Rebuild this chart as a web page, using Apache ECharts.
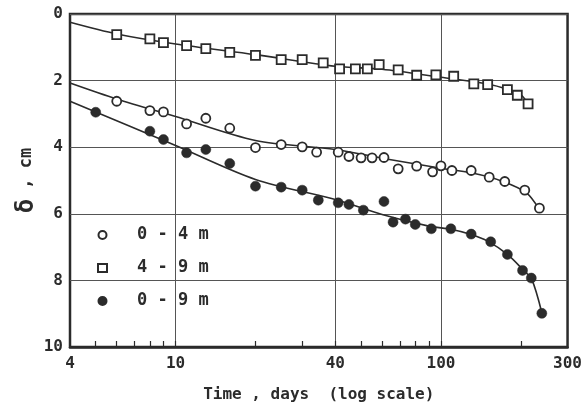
<!DOCTYPE html>
<html>
<head>
<meta charset="utf-8">
<script src="https://cdn.jsdelivr.net/npm/echarts@6/dist/echarts.min.js"></script>
<style>
  html, body { margin: 0; padding: 0; background: #fff; }
  #chart { width: 585px; height: 410px; }
</style>
</head>
<body>
<div id="chart"></div>
<script>
// x tick labels / grid lines, and all tick marks (days, log scale)
const xLabels = [4, 10, 40, 100, 300]
const xTicks = [5, 6, 7, 8, 9, 10, 20, 30, 40, 50, 60, 70, 80, 90, 100, 200]

// 0 - 4 m (open circles)
const days04 = [6, 8, 9, 11, 13, 16, 20, 25, 30, 34, 41, 45, 50, 55, 61, 69, 81, 93, 100, 110, 130, 152, 174, 207, 235]
const sett04 = [2.62, 2.9, 2.94, 3.3, 3.13, 3.43, 4.01, 3.92, 3.99, 4.15, 4.15, 4.28, 4.32, 4.32, 4.31, 4.65, 4.57, 4.74, 4.56, 4.7, 4.7, 4.9, 5.03, 5.29, 5.83]
// 4 - 9 m (open squares)
const days49 = [6, 8, 9, 11, 13, 16, 20, 25, 30, 36, 41.5, 47.6, 52.8, 58.5, 69, 81, 95.7, 111.7, 133, 150, 178, 194, 213]
const sett49 = [0.62, 0.745, 0.86, 0.95, 1.04, 1.15, 1.24, 1.37, 1.37, 1.47, 1.65, 1.65, 1.65, 1.52, 1.68, 1.84, 1.83, 1.87, 2.1, 2.12, 2.27, 2.44, 2.7]
// 0 - 9 m (filled circles)
const days09 = [5, 8, 9, 11, 13, 16, 20, 25, 30, 34.5, 41, 45, 51, 61, 66, 73.5, 80, 92, 109, 130, 154, 178, 203, 219, 240]
const sett09 = [2.95, 3.52, 3.77, 4.17, 4.07, 4.49, 5.17, 5.2, 5.29, 5.59, 5.67, 5.72, 5.89, 5.63, 6.25, 6.16, 6.32, 6.45, 6.45, 6.61, 6.84, 7.22, 7.7, 7.93, 8.99]

// fitted curves
const fitDays04 = [4, 6, 10, 20, 40, 60, 100, 130, 170, 210, 235]
const fit04 = [2.07, 2.55, 3.08, 3.8, 4.07, 4.33, 4.63, 4.77, 5.02, 5.37, 5.87]
const fitDays49 = [4, 6, 10, 20, 40, 60, 100, 150, 180, 200, 213]
const fit49 = [0.25, 0.6, 0.9, 1.22, 1.57, 1.66, 1.9, 2.1, 2.27, 2.42, 2.7]
const fitDays09 = [4, 10, 20, 40, 60, 90, 110, 130, 150, 178, 205, 220, 240]
const fit09 = [2.62, 3.95, 4.97, 5.57, 6.02, 6.37, 6.47, 6.62, 6.82, 7.22, 7.7, 7.97, 8.97]

const ink = '#2b2b2b'
const gridColor = '#555'
const font = 'DejaVu Sans Mono'
const zip = (xs, ys) => xs.map((x, i) => [x, ys[i]])

// split lines follow the ticks, so only the labelled ticks get a visible line
const xSplitColors = xTicks.map((v) => (xLabels.includes(v) ? gridColor : 'rgba(0,0,0,0)'))

const chart = echarts.init(document.getElementById('chart'))

function fitLine(name, xs, ys) {
  return {
    name,
    type: 'line',
    data: zip(xs, ys),
    smooth: 0.3,
    showSymbol: false,
    silent: true,
    lineStyle: { color: ink, width: 1.6 },
    z: 2,
  }
}

chart.setOption({
  backgroundColor: '#fff',
  animation: false,
  grid: {
    left: 70, right: 14, top: 14, bottom: 63,
    show: true, borderColor: ink, borderWidth: 2.5, backgroundColor: 'transparent',
  },
  legend: {
    orient: 'vertical',
    left: 92,
    top: 220,
    itemWidth: 9,
    itemHeight: 8,
    itemGap: 13,
    data: [
      { name: '0 - 4 m', icon: 'circle' },
      { name: '4 - 9 m', icon: 'rect' },
      { name: '0 - 9 m', icon: 'circle' },
    ],
    textStyle: {
      fontFamily: font, fontWeight: 'bold', fontSize: 17, color: ink, lineHeight: 20,
      padding: [0, 0, 0, 25],
    },
  },
  xAxis: {
    type: 'log',
    min: 4,
    max: 300,
    name: 'Time , days  (log scale)',
    nameLocation: 'middle',
    nameGap: 40,
    nameTextStyle: { fontFamily: font, fontWeight: 'bold', fontSize: 16, color: ink },
    axisLine: { show: true, onZero: false, lineStyle: { color: ink, width: 2.5 } },
    axisTick: {
      show: true, inside: true, length: 6, customValues: xTicks,
      lineStyle: { color: ink, width: 1.2 },
    },
    axisLabel: {
      customValues: xLabels,
      fontFamily: font, fontWeight: 'bold', fontSize: 16, color: ink, margin: 9,
      formatter: (v) => String(Math.round(v)),
    },
    splitLine: { show: true, lineStyle: { color: xSplitColors, width: 1 } },
  },
  yAxis: {
    type: 'value',
    inverse: true,
    min: 0,
    max: 10,
    interval: 2,
    name: '{d|δ} , cm',
    nameLocation: 'middle',
    nameRotate: 90,
    nameGap: 31,
    nameMoveOverlap: false,
    nameTextStyle: {
      fontFamily: font, fontWeight: 'bold', fontSize: 17, color: ink,
      rich: { d: { fontFamily: font, fontWeight: 'bold', fontSize: 24, color: ink } },
    },
    axisLine: { show: false },
    axisTick: { show: false },
    axisLabel: { fontFamily: font, fontWeight: 'bold', fontSize: 16, color: ink, margin: 7 },
    splitLine: { show: true, lineStyle: { color: gridColor, width: 1 } },
  },
  series: [
    fitLine('fit 0-4', fitDays04, fit04),
    fitLine('fit 4-9', fitDays49, fit49),
    fitLine('fit 0-9', fitDays09, fit09),
    {
      name: '0 - 4 m',
      type: 'scatter',
      data: zip(days04, sett04),
      symbol: 'circle',
      symbolSize: 9,
      itemStyle: { color: '#fff', borderColor: ink, borderWidth: 1.8, opacity: 1 },
      z: 3,
    },
    {
      name: '4 - 9 m',
      type: 'scatter',
      data: zip(days49, sett49),
      symbol: 'rect',
      symbolSize: 9,
      itemStyle: { color: '#fff', borderColor: ink, borderWidth: 1.8, opacity: 1 },
      z: 3,
    },
    {
      name: '0 - 9 m',
      type: 'scatter',
      data: zip(days09, sett09),
      symbol: 'circle',
      symbolSize: 10,
      itemStyle: { color: ink, borderColor: ink, borderWidth: 0.5, opacity: 1 },
      z: 3,
    },
  ],
})
</script>
</body>
</html>
